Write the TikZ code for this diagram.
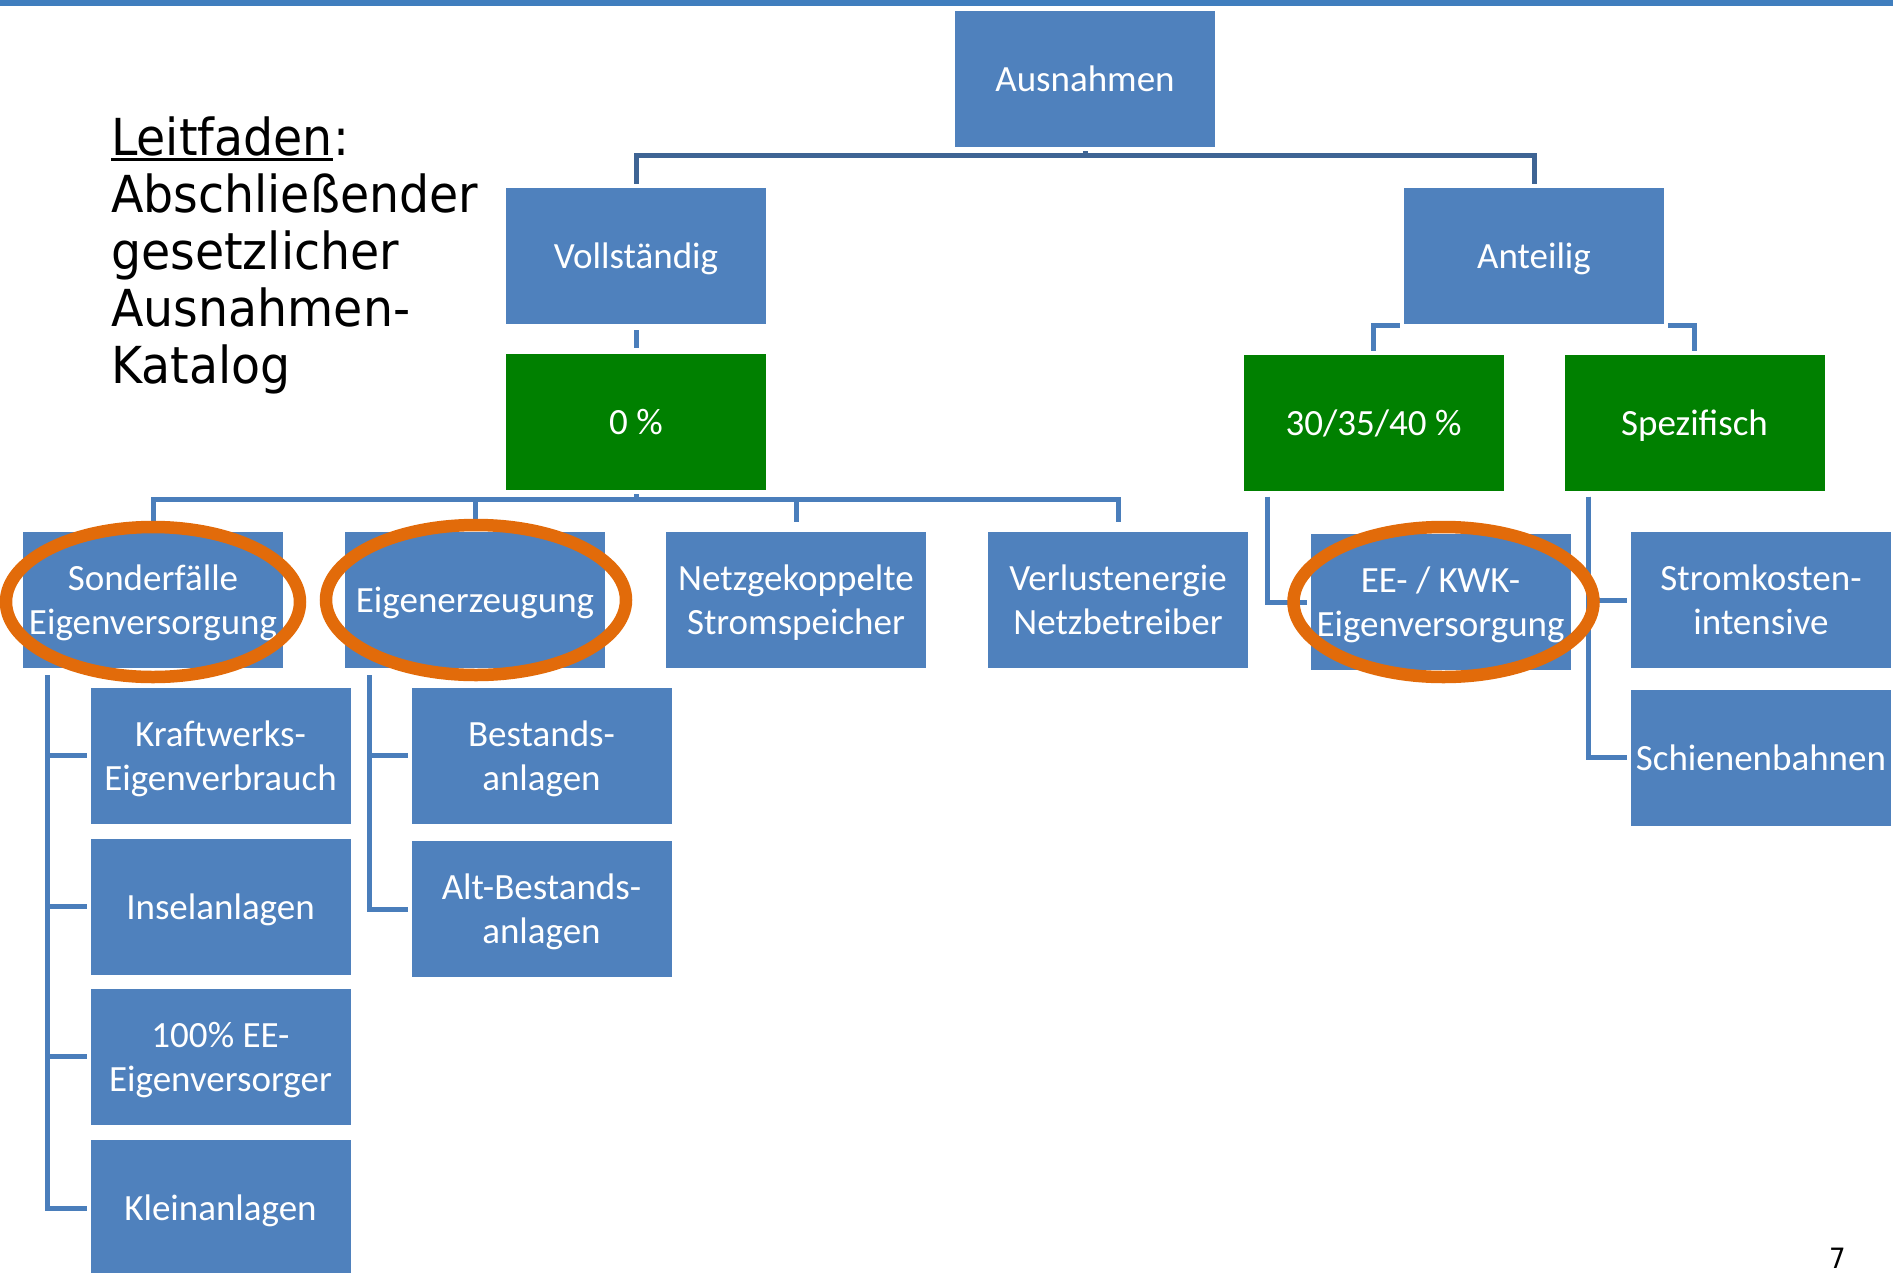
\documentclass[tikz,border=0pt]{standalone}
\usepackage{fontspec}
\setmainfont{Carlito}
\newfontfamily\titlefont[FakeStretch=0.93]{DejaVu Sans}
\pgfdeclarelayer{bg}
\pgfsetlayers{bg,main}
\definecolor{boxblue}{HTML}{4F81BD}
\definecolor{boxgreen}{HTML}{008000}
\definecolor{connblue}{HTML}{4A7EBB}
\definecolor{conndark}{HTML}{3E6494}
\definecolor{ringorange}{HTML}{E26B0A}
\definecolor{barblue}{HTML}{407EBE}

\begin{document}
\begin{tikzpicture}[x=1pt,y=-1pt,
  box/.style={rectangle, fill=boxblue, draw=white, line width=4pt,
    minimum width=264pt, minimum height=140pt, inner sep=0pt, text depth=0pt,
    text=white, align=center, font=\fontsize{37pt}{44pt}\selectfont},
  greenbox/.style={box, fill=boxgreen},
  conn/.style={draw=connblue, line width=5pt},
  topconn/.style={draw=conndark, line width=5pt},
  ring/.style={draw=ringorange, line width=12.5pt},
  title/.style={anchor=base west, inner sep=0pt,
    font=\titlefont\fontsize{51pt}{57pt}\selectfont},
]
\useasboundingbox (0,0) rectangle (1893,1272);
% header bar
\fill[barblue] (0,0) rectangle (1893,6);

% level 0 and 1
\node[box] (aus)  at (1085,79)  {Ausnahmen};
\node[box] (voll) at (636,256)  {Vollständig};
\node[box] (ant)  at (1534,256) {Anteilig};

% rates
\node[greenbox] (zero) at (636,421.5)   {0 \%};
\node[greenbox] (drei) at (1373.5,422.5) {30/35/40 \%};
\node[greenbox] (spez) at (1694.5,422.5) {Spezifisch};

% categories
\node[box] (sonder) at (153,600)    {Sonderfälle\\Eigenversorgung};
\node[box] (eigen)  at (475,600)    {Eigenerzeugung};
\node[box] (netz)   at (796,600)    {Netzgekoppelte\\Stromspeicher};
\node[box] (verl)   at (1118,600)   {Verlustenergie\\Netzbetreiber};
\node[box] (eekwk)  at (1440.5,602) {EE- / KWK-\\Eigenversorgung};
\node[box] (strom)  at (1761,600)   {Stromkosten-\\intensive};
\node[box] (schiene) at (1761,757.5) {Schienenbahnen};

% special cases
\node[box] (kraft)   at (220.5,755.5)  {Kraftwerks-\\Eigenverbrauch};
\node[box] (insel)   at (220.5,906.5)  {Inselanlagen};
\node[box] (hundert) at (220.5,1056.5) {100\% EE-\\Eigenversorger};
\node[box] (klein)   at (220.5,1208)   {Kleinanlagen};

% own generation
\node[box] (best) at (541.5,755.5) {Bestands-\\anlagen};
\node[box] (alt)  at (541.5,909)   {Alt-Bestands-\\anlagen};

% connectors behind the boxes
\begin{pgfonlayer}{bg}
\draw[topconn] (aus.south) -- ++(0,4.5) -| (voll.north);
\draw[topconn] (aus.south) -- ++(0,4.5) -| (ant.north);
\draw[conn, shorten <=2pt, shorten >=2pt] (voll) -- (zero);
\draw[conn] ([yshift=3pt]ant.south) -| (drei.north);
\draw[conn] ([yshift=3pt]ant.south) -| (spez.north);
\foreach \c in {sonder,eigen,netz,verl}
  \draw[conn, shorten >=6pt] (zero.south) -- ++(0,5.5) -| (\c.north);
\foreach \c in {kraft,insel,hundert,klein}
  \draw[conn, shorten <=3pt] ([xshift=28pt]sonder.south west) |- (\c.west);
\foreach \c in {best,alt}
  \draw[conn, shorten <=3pt] ([xshift=28pt]eigen.south west) |- (\c.west);
\draw[conn, shorten <=2pt] ([xshift=28pt]drei.south west) |- (eekwk.west);
\foreach \c in {strom,schiene}
  \draw[conn, shorten <=2pt] ([xshift=28pt]spez.south west) |- (\c.west);
\end{pgfonlayer}

% highlight rings
\draw[ring] ([yshift=-2pt]sonder.center) ellipse [x radius=147pt, y radius=75pt];
\draw[ring] ([xshift=1pt]eigen.center) ellipse [x radius=150pt, y radius=75pt];
\draw[ring] ([xshift=3pt]eekwk.center) ellipse [x radius=150pt, y radius=75pt];

% heading text
\node[title] (lf) at (111,155) {Leitfaden};
\node[title] (colon) at (lf.base east) {:};
\draw[line width=3pt] ([yshift=-4.5pt]lf.base west) -- ([yshift=-4.5pt]lf.base east);
\node[title] (t2) at (111,212) {Abschließender};
\node[title] (t3) at (111,269) {gesetzlicher};
\node[title] (t4) at (111,326) {Ausnahmen-};
\node[title] (t5) at (111,383) {Katalog};

% page number
\node[anchor=base, inner sep=0pt, font=\titlefont\fontsize{28pt}{34pt}\selectfont] (pg) at (1837.5,1268) {7};
\end{tikzpicture}
\end{document}
